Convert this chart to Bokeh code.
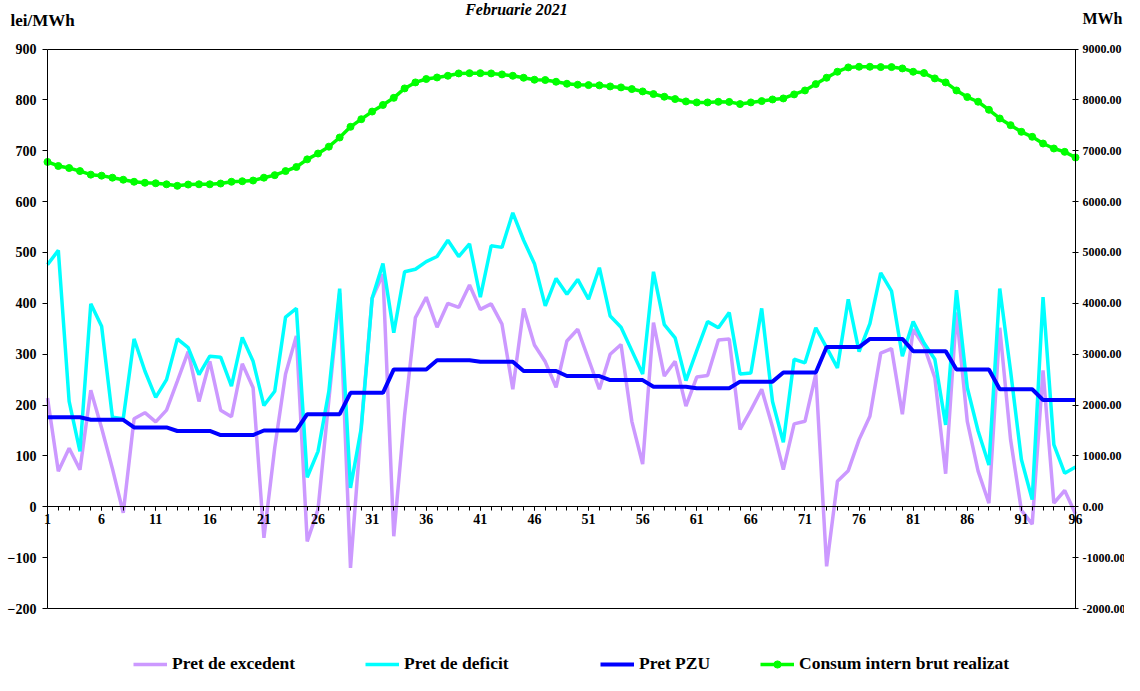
from bokeh.plotting import figure
from bokeh.models import (Range1d, LinearAxis, FixedTicker, SingleIntervalTicker,
                          PrintfTickFormatter, Legend, LegendItem, Label)
from bokeh.embed import file_html
from bokeh.resources import INLINE

# ---------------- data ----------------
intervals = list(range(1, 97))
x_tick_labels = list(range(1, 97, 5))

pret_excedent = [214, 70, 115, 73, 229, 155, 75, -12, 173, 185, 167, 190,
                 247, 305, 207, 286, 190, 177, 281, 234, -61, 116, 261, 336,
                 -68, -5, 210, 420, -120, 160, 410, 457, -58, 180, 372, 412,
                 353, 400, 392, 436, 388, 399, 359, 231, 390, 318, 285, 235,
                 326, 349, 290, 231, 300, 319, 168, 84, 362, 257, 286, 198,
                 255, 258, 328, 330, 152, 190, 231, 157, 73, 163, 168, 261,
                 -117, 50, 71, 132, 178, 302, 311, 182, 349, 316, 254, 65,
                 382, 168, 70, 7, 352, 132, -7, -34, 268, 7, 32, -14]

pret_deficit = [476, 504, 207, 109, 399, 355, 176, 173, 330, 267, 215, 250,
                330, 313, 260, 296, 294, 237, 333, 286, 199, 227, 373, 390,
                58, 109, 227, 429, 37, 155, 410, 478, 342, 462, 467, 482,
                492, 524, 492, 517, 412, 513, 510, 578, 524, 478, 395, 449,
                418, 447, 408, 470, 375, 353, 307, 261, 462, 358, 332, 248,
                307, 364, 352, 382, 261, 263, 390, 207, 127, 290, 283, 352,
                313, 273, 408, 305, 360, 460, 424, 296, 364, 322, 290, 161,
                426, 234, 149, 82, 429, 267, 93, 14, 412, 122, 66, 78]

pret_pzu = [176, 176, 176, 176, 171, 171, 171, 171, 156, 156, 156, 156,
            149, 149, 149, 149, 141, 141, 141, 141, 150, 150, 150, 150,
            182, 182, 182, 182, 224, 224, 224, 224, 270, 270, 270, 270,
            288, 288, 288, 288, 285, 285, 285, 285, 267, 267, 267, 267,
            257, 257, 257, 257, 249, 249, 249, 249, 236, 236, 236, 236,
            233, 233, 233, 233, 246, 246, 246, 246, 264, 264, 264, 264,
            314, 314, 314, 314, 330, 330, 330, 330, 306, 306, 306, 306,
            270, 270, 270, 270, 231, 231, 231, 231, 210, 210, 210, 210]

consum = [6780, 6700, 6660, 6600, 6530, 6510, 6470, 6430, 6390, 6370, 6360, 6340,
          6310, 6335, 6340, 6340, 6355, 6390, 6400, 6414, 6470, 6520, 6600, 6680,
          6830, 6945, 7080, 7260, 7470, 7620, 7770, 7900, 8040, 8225, 8343, 8410,
          8440, 8474, 8520, 8525, 8525, 8520, 8500, 8474, 8435, 8396, 8390, 8356,
          8317, 8298, 8290, 8285, 8264, 8245, 8212, 8166, 8114, 8062, 8016, 7969,
          7950, 7950, 7962, 7960, 7917, 7950, 7976, 8008, 8028, 8107, 8185, 8310,
          8435, 8553, 8638, 8651, 8651, 8644, 8644, 8618, 8553, 8527, 8422, 8343,
          8185, 8055, 7963, 7805, 7634, 7503, 7372, 7274, 7142, 7044, 6978, 6867]

series_names = ["Pret de excedent", "Pret de deficit", "Pret PZU",
                "Consum intern brut realizat"]
title_text = "Februarie 2021"
left_unit = "lei/MWh"
right_unit = "MWh"

x_min, x_max = 1, 96
y_min, y_max = -200, 900
y2_min, y2_max = -2000, 9000

# ---------------- layout (pixels on the canvas) ----------------
W, H = 1124, 675
AREA_L, AREA_R = 47, 1075      # canvas x of x_min / x_max
AREA_T, AREA_B = 48.5, 608     # canvas y of y_max / y_min

xs = (x_max - x_min) / (AREA_R - AREA_L)
ys = (y_max - y_min) / (AREA_B - AREA_T)
xr = Range1d(x_min - AREA_L * xs, x_max + (W - AREA_R) * xs)
yr = Range1d(y_min - (H - AREA_B) * ys, y_max + AREA_T * ys)
k2 = (y2_max - y2_min) / (y_max - y_min)
yr2 = Range1d(y2_min + (yr.start - y_min) * k2, y2_max + (yr.end - y_max) * k2)

FONT = "'Liberation Serif', serif"
C_EXC = "#CC99FF"
C_DEF = "#00FFFF"
C_PZU = "#0000FF"
C_CON = "#00FF00"

p = figure(width=W, height=H, output_backend="svg", toolbar_location=None,
           x_range=xr, y_range=yr, x_axis_location=None, y_axis_location=None,
           min_border=0)
p.extra_y_ranges = {"mwh": yr2}
p.xgrid.visible = False
p.ygrid.visible = False
p.outline_line_color = None
p.background_fill_color = "white"
p.border_fill_color = "white"


def style_axis(ax, size="14px"):
    ax.axis_line_color = "black"
    ax.axis_line_width = 1
    ax.major_tick_line_color = "black"
    ax.minor_tick_line_color = "black"
    ax.major_label_text_font = FONT
    ax.major_label_text_font_style = "bold"
    ax.major_label_text_font_size = size
    ax.major_label_text_color = "black"


# x axis crossing at zero
xa = LinearAxis(fixed_location=0, bounds=(x_min, x_max),
                ticker=FixedTicker(ticks=x_tick_labels, minor_ticks=intervals))
style_axis(xa)
xa.major_tick_in = 0
xa.major_tick_out = 4
xa.minor_tick_in = 0
xa.minor_tick_out = 4
xa.major_label_standoff = 3
p.add_layout(xa, "below")

# top and bottom border lines of the plot area
for loc in (y_max, y_min):
    bx = LinearAxis(fixed_location=loc, bounds=(x_min, x_max),
                    ticker=FixedTicker(ticks=[]))
    style_axis(bx)
    bx.major_label_text_font_size = "0px"
    bx.major_tick_line_color = None
    bx.minor_tick_line_color = None
    p.add_layout(bx, "below")

# left axis
ya = LinearAxis(fixed_location=x_min, bounds=(y_min, y_max),
                ticker=SingleIntervalTicker(interval=100))
style_axis(ya)
ya.minor_tick_line_color = None
ya.major_tick_in = 0
ya.major_tick_out = 5
ya.major_label_standoff = 6
p.add_layout(ya, "left")

# right axis
ra = LinearAxis(y_range_name="mwh", fixed_location=x_max, bounds=(y2_min, y2_max),
                ticker=SingleIntervalTicker(interval=1000),
                formatter=PrintfTickFormatter(format="%.2f"))
style_axis(ra, "12px")
ra.minor_tick_line_color = None
ra.major_tick_in = 3
ra.major_tick_out = 3
ra.major_label_standoff = 3
p.add_layout(ra, "right")

# series
r_exc = p.line(intervals, pret_excedent, line_color=C_EXC, line_width=3.5)
r_def = p.line(intervals, pret_deficit, line_color=C_DEF, line_width=3.5)
r_pzu = p.line(intervals, pret_pzu, line_color=C_PZU, line_width=4)
r_con = p.line(intervals, consum, line_color=C_CON, line_width=3.5, y_range_name="mwh")
r_conm = p.scatter(intervals, consum, size=7, fill_color=C_CON, line_color=C_CON,
                   y_range_name="mwh")

# legends (one per item, positioned below the plot area)
legend_specs = [
    (series_names[0], [r_exc], 133),
    (series_names[1], [r_def], 365),
    (series_names[2], [r_pzu], 600),
    (series_names[3], [r_con, r_conm], 760),
]
for name, rends, xloc in legend_specs:
    leg = Legend(items=[LegendItem(label=name, renderers=rends)],
                 location=(xloc, 1), orientation="horizontal",
                 border_line_color=None, background_fill_alpha=0,
                 padding=0, margin=0, glyph_width=34, glyph_height=18,
                 label_standoff=5, label_text_font=FONT,
                 label_text_font_style="bold", label_text_font_size="17.5px",
                 label_text_color="black", label_height=19)
    p.add_layout(leg)

# texts
p.add_layout(Label(x=516, y=H, x_units="screen", y_units="screen",
                   text=title_text, text_align="center", text_baseline="top",
                   text_font=FONT, text_font_style="bold italic",
                   text_font_size="16px", text_color="black"))
p.add_layout(Label(x=10, y=H - 20, x_units="screen", y_units="screen",
                   text=left_unit, text_align="left", text_baseline="middle",
                   text_font=FONT, text_font_style="bold",
                   text_font_size="17px", text_color="black"))
p.add_layout(Label(x=W - 2, y=H - 18, x_units="screen", y_units="screen",
                   text=right_unit, text_align="right", text_baseline="middle",
                   text_font=FONT, text_font_style="bold",
                   text_font_size="16px", text_color="black"))

open("out.html", "w").write(file_html(p, INLINE))
